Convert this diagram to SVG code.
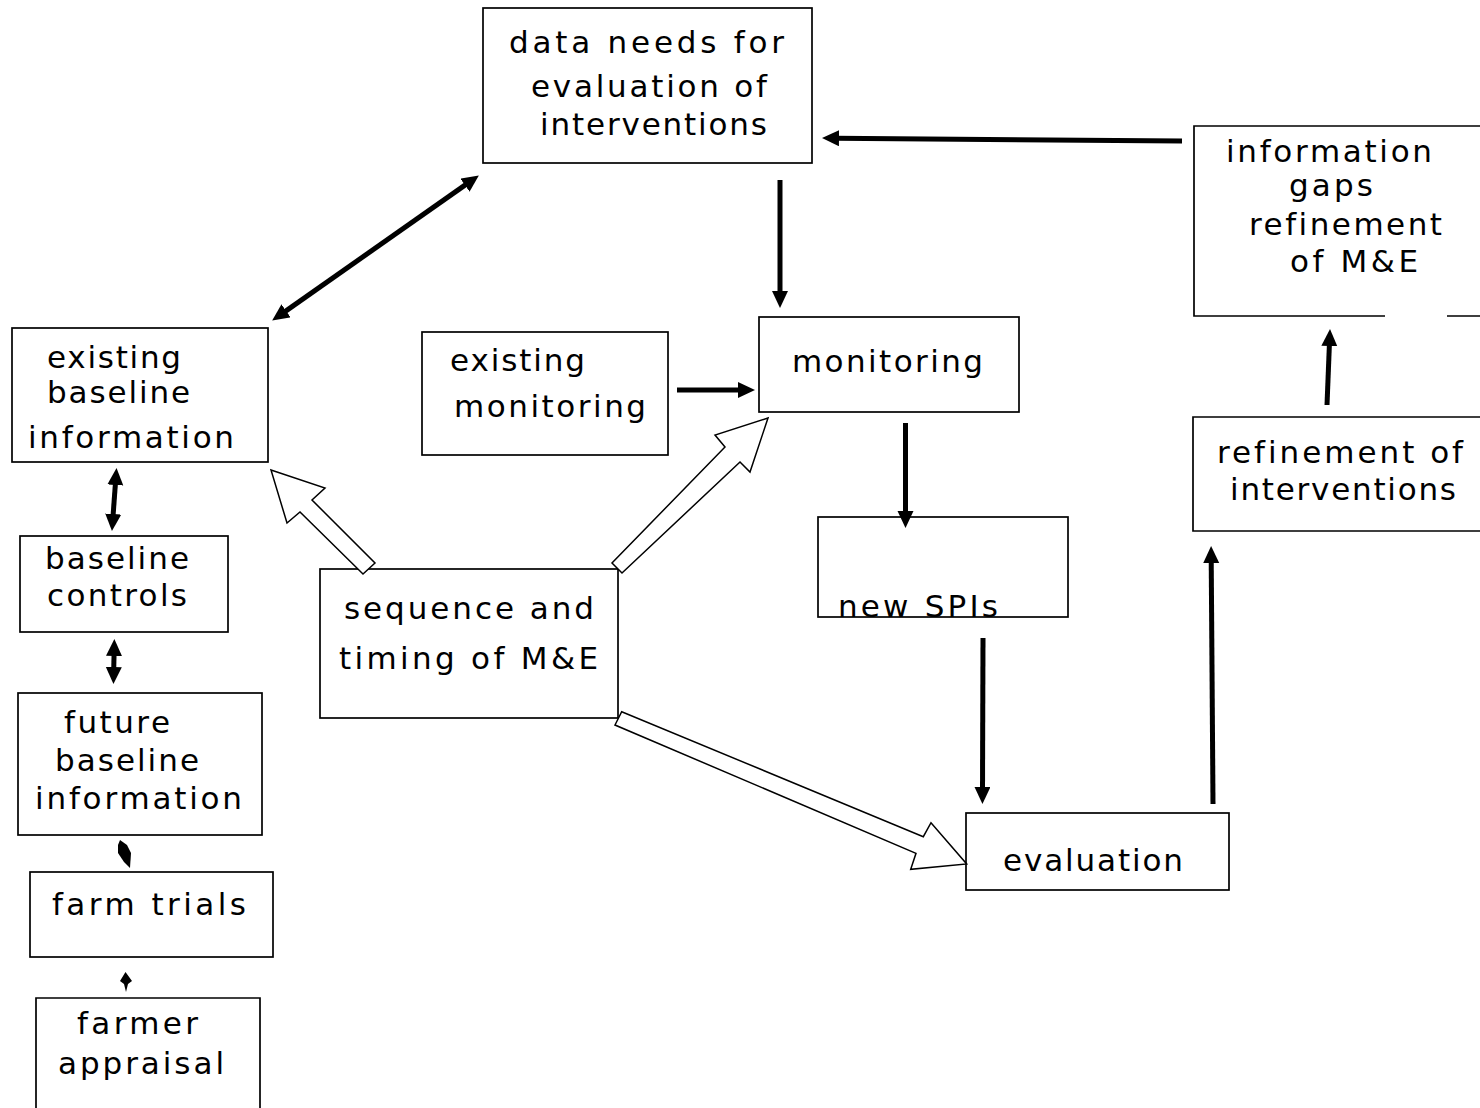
<svg xmlns="http://www.w3.org/2000/svg" width="1480" height="1108" viewBox="0 0 1480 1108">
<style>
.box{fill:none;stroke:#000;stroke-width:1.7}
.t{font-family:"DejaVu Sans","Liberation Sans",sans-serif;font-size:31px;fill:#000;font-variant-ligatures:none;font-feature-settings:"liga" 0}
.a{fill:none;stroke:#000;stroke-width:5}
.h{fill:#fff;stroke:#000;stroke-width:1.5;stroke-linejoin:miter}
.f{fill:#000;stroke:none}
</style>
<defs>
<marker id="ah" markerUnits="userSpaceOnUse" markerWidth="20" markerHeight="18" refX="4" refY="8" orient="auto-start-reverse">
<path d="M0,0 L17,8 L0,16 z" fill="#000"/>
</marker>
</defs>
<rect width="1480" height="1108" fill="#fff"/>

<g id="data-needs">
<rect class="box" x="483" y="8" width="329" height="155"/>
<text class="t" x="509" y="53" textLength="275" lengthAdjust="spacing">data needs for</text>
<text class="t" x="531" y="97" textLength="236" lengthAdjust="spacing">evaluation of</text>
<text class="t" x="540" y="135" textLength="227" lengthAdjust="spacing">interventions</text>
</g>

<g id="info-gaps">
<path class="box" d="M1480,126 H1194 V316 H1385 M1447,316 H1480"/>
<text class="t" x="1226" y="162" textLength="206" lengthAdjust="spacing">information</text>
<text class="t" x="1289" y="196" textLength="84" lengthAdjust="spacing">gaps</text>
<text class="t" x="1249" y="235" textLength="193" lengthAdjust="spacing">refinement</text>
<text class="t" x="1290" y="272" textLength="128" lengthAdjust="spacing">of M&amp;E</text>
</g>

<g id="existing-baseline">
<rect class="box" x="12" y="328" width="256" height="134"/>
<text class="t" x="47" y="368" textLength="134" lengthAdjust="spacing">existing</text>
<text class="t" x="47" y="403" textLength="143" lengthAdjust="spacing">baseline</text>
<text class="t" x="28" y="448" textLength="206" lengthAdjust="spacing">information</text>
</g>

<g id="existing-monitoring">
<rect class="box" x="422" y="332" width="246" height="123"/>
<text class="t" x="450" y="371" textLength="135" lengthAdjust="spacing">existing</text>
<text class="t" x="454" y="417" textLength="192" lengthAdjust="spacing">monitoring</text>
</g>

<g id="monitoring">
<rect class="box" x="759" y="317" width="260" height="95"/>
<text class="t" x="792" y="372" textLength="191" lengthAdjust="spacing">monitoring</text>
</g>

<g id="new-spis">
<rect class="box" x="818" y="517" width="250" height="100"/>
<text class="t" x="838" y="617" textLength="160" lengthAdjust="spacing">new SPIs</text>
</g>

<g id="refinement-interventions">
<path class="box" d="M1480,417 H1193 V531 H1480"/>
<text class="t" x="1217" y="463" textLength="246" lengthAdjust="spacing">refinement of</text>
<text class="t" x="1230" y="500" textLength="226" lengthAdjust="spacing">interventions</text>
</g>

<g id="baseline-controls">
<rect class="box" x="20" y="536" width="208" height="96"/>
<text class="t" x="45" y="569" textLength="144" lengthAdjust="spacing">baseline</text>
<text class="t" x="47" y="606" textLength="140" lengthAdjust="spacing">controls</text>
</g>

<g id="sequence-timing">
<rect class="box" x="320" y="569" width="298" height="149"/>
<text class="t" x="344" y="619" textLength="250" lengthAdjust="spacing">sequence and</text>
<text class="t" x="339" y="669" textLength="259" lengthAdjust="spacing">timing of M&amp;E</text>
</g>

<g id="future-baseline">
<rect class="box" x="18" y="693" width="244" height="142"/>
<text class="t" x="64" y="733" textLength="106" lengthAdjust="spacing">future</text>
<text class="t" x="55" y="771" textLength="144" lengthAdjust="spacing">baseline</text>
<text class="t" x="35" y="809" textLength="207" lengthAdjust="spacing">information</text>
</g>

<g id="evaluation">
<rect class="box" x="966" y="813" width="263" height="77"/>
<text class="t" x="1003" y="871" textLength="180" lengthAdjust="spacing">evaluation</text>
</g>

<g id="farm-trials">
<rect class="box" x="30" y="872" width="243" height="85"/>
<text class="t" x="52" y="915" textLength="194" lengthAdjust="spacing">farm trials</text>
</g>

<g id="farmer-appraisal">
<path class="box" d="M36,1108 V998 H260 V1108"/>
<text class="t" x="77" y="1034" textLength="121" lengthAdjust="spacing">farmer</text>
<text class="t" x="58" y="1074" textLength="166" lengthAdjust="spacing">appraisal</text>
</g>

<g id="connectors">
<line class="a" x1="282.8" y1="313.1" x2="468.2" y2="182.9" marker-start="url(#ah)" marker-end="url(#ah)"/>
<line class="a" x1="1182" y1="141" x2="835" y2="138.2" marker-end="url(#ah)"/>
<line class="a" x1="780" y1="180" x2="780" y2="295" marker-end="url(#ah)"/>
<line class="a" x1="677" y1="390" x2="742" y2="390" marker-end="url(#ah)"/>
<line class="a" x1="905.5" y1="423" x2="905.5" y2="515" marker-end="url(#ah)"/>
<line class="a" x1="983" y1="638" x2="982.5" y2="791" marker-end="url(#ah)"/>
<line class="a" x1="1213" y1="804" x2="1211.2" y2="559" marker-end="url(#ah)"/>
<line class="a" x1="1327" y1="405" x2="1329.5" y2="342" marker-end="url(#ah)"/>
<line class="a" x1="115.6" y1="481" x2="112.9" y2="518" marker-start="url(#ah)" marker-end="url(#ah)"/>
<line class="a" x1="114.1" y1="652" x2="113.7" y2="671" marker-start="url(#ah)" marker-end="url(#ah)"/>
<polygon class="f" points="120,840 127,845 131,853 130,868 124,862 118,853 118,845"/>
<polygon class="f" points="125.5,972 132,981 128,984 126,992 124,984 120,981"/>
<polygon class="h" points="271,470 325,488 312,500 375,563 363,574 300,512 287,523"/>
<polygon class="h" points="768,418 750,472 740,462 622,573 612,563 725,447 715,435"/>
<polygon class="h" points="621.7,711.7 923.3,836.7 931,822.7 966.7,864 910.7,869.3 916,853.3 615,725"/>
</g>
</svg>
